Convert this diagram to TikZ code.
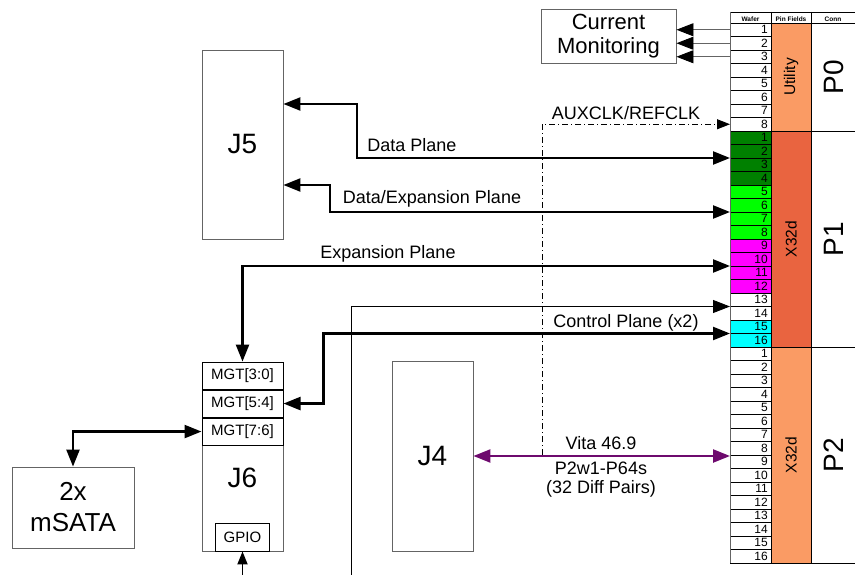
\documentclass[tikz,border=0pt]{standalone}
\usepackage{fontspec}
\setmainfont{Liberation Sans}
\usetikzlibrary{arrows.meta,positioning}
\definecolor{pinlight}{RGB}{250,155,100}
\definecolor{pindark}{RGB}{233,100,64}
\definecolor{wafdark}{RGB}{0,128,0}
\definecolor{waflime}{RGB}{0,255,0}
\definecolor{wafpink}{RGB}{255,0,255}
\definecolor{wafcyan}{RGB}{0,255,255}
\definecolor{vitapurple}{RGB}{110,10,110}
\definecolor{boxgray}{RGB}{100,100,100}
\newcommand{\jfont}{\fontsize{28}{31}\selectfont}
\newcommand{\satafont}{\fontsize{26}{31}\selectfont}
\newcommand{\cmfont}{\fontsize{22}{24}\selectfont}
\newcommand{\labfont}{\fontsize{18}{22}\selectfont}
\newcommand{\mgtfont}{\fontsize{15}{18}\selectfont}
\newcommand{\rotfont}{\fontsize{15.5}{18}\selectfont}
\newcommand{\cellfont}{\fontsize{12}{13}\selectfont}
\newcommand{\headfont}{\fontsize{6.5}{7}\selectfont\bfseries}
\tikzset{
  blk/.style={draw=boxgray, line width=0.9pt, inner sep=0pt},
  mgtbox/.style={draw=black, line width=1pt, inner sep=0pt,
    minimum width=81pt, minimum height=27pt, font=\mgtfont},
  bus/.style={line width=2.4pt},
  sig/.style={line width=0.9pt},
  cell/.style={draw=black, line width=0.7pt}
}
\begin{document}
\begin{tikzpicture}[x=1pt,y=-1pt,>={Triangle[length=17pt,width=13pt]}]
	\useasboundingbox (0,0) rectangle (855,575);
	\path
	coordinate (t-cm1) at (730,29.75)
	coordinate (t-cm2) at (730,43.25)
	coordinate (t-cm3) at (730,56.75)
	coordinate (t-clk) at (730,124.25)
	coordinate (t-dp) at (730,158)
	coordinate (t-dx) at (730,212)
	coordinate (t-ep) at (730,266)
	coordinate (t-x14) at (730,306.5)
	coordinate (t-cp) at (730,333.5)
	coordinate (t-vt) at (730,455)
	coordinate (clkbot) at (542,455)
	coordinate (offb) at (351,575)
	coordinate (gpioin) at (242.5,575)
	;
% wafer cells
	\foreach \r in {1,...,8}
	\filldraw[cell, fill=white] (730,{23+13.5*(\r-1)}) rectangle (771,{23+13.5*\r});
	\foreach \r/\c in {1/wafdark,2/wafdark,3/wafdark,4/wafdark,5/waflime,6/waflime,7/waflime,8/waflime,
	  9/wafpink,10/wafpink,11/wafpink,12/wafpink,13/white,14/white,15/wafcyan,16/wafcyan}
	\filldraw[cell, fill=\c] (730,{131+13.5*(\r-1)}) rectangle (771,{131+13.5*\r});
	\foreach \r in {1,...,16}
	\filldraw[cell, fill=white] (730,{347+13.5*(\r-1)}) rectangle (771,{347+13.5*\r});
	\foreach \r in {1,...,8}
	\node[font=\cellfont, anchor=east, inner sep=0pt] (w0-\r) at (768,{23+13.5*\r-6.75}) {\r};
	\foreach \r in {1,...,16}
	\node[font=\cellfont, anchor=east, inner sep=0pt] (w1-\r) at (768,{131+13.5*\r-6.75}) {\r};
	\foreach \r in {1,...,16}
	\node[font=\cellfont, anchor=east, inner sep=0pt] (w2-\r) at (768,{347+13.5*\r-6.75}) {\r};
% pin fields and conn
	\filldraw[cell, fill=pinlight] (771,23) rectangle (811,131);
	\filldraw[cell, fill=pindark] (771,131) rectangle (811,347);
	\filldraw[cell, fill=pinlight] (771,347) rectangle (811,563);
	\draw[cell]
	(730,12) -- (855,12)
	(730,23) -- (855,23)
	(811,131) -- (855,131)
	(811,347) -- (855,347)
	(811,563) -- (855,563)
	(730,12) -- (730,23)
	(771,12) -- (771,23)
	(811,12) -- (811,563);
	\draw[boxgray, line width=1pt] (730,12) -- (730,563);
	\node[font=\headfont] (h-waf) at (750.5,19.5) {Wafer};
	\node[font=\headfont] (h-pin) at (791,19.5) {Pin Fields};
	\node[font=\headfont] (h-con) at (833,19.5) {Conn};
	\node[font=\rotfont, rotate=90] (pf0) at (791,77) {Utility};
	\node[font=\rotfont, rotate=90] (pf1) at (791,239) {X32d};
	\node[font=\rotfont, rotate=90] (pf2) at (791,455) {X32d};
	\node[font=\jfont, rotate=90] (cn0) at (834,77) {P0};
	\node[font=\jfont, rotate=90] (cn1) at (834,239) {P1};
	\node[font=\jfont, rotate=90] (cn2) at (834,455) {P2};
% blocks
	\node[blk, minimum width=81pt, minimum height=189pt, font=\jfont] (j5) at (242.5,144.5) {J5};
	\node[blk, minimum width=81pt, minimum height=190pt, font=\jfont] (j4) at (432.5,456) {J4};
	\node[blk, minimum width=81pt, minimum height=189pt] (j6) at (242.5,456.5) {};
	\node[mgtbox, anchor=north] (mgt30) at (j6.north) {MGT[3:0]};
	\node[mgtbox, below=0pt of mgt30] (mgt54) {MGT[5:4]};
	\node[mgtbox, below=0pt of mgt54] (mgt76) {MGT[7:6]};
	\node[font=\jfont] (j6lbl) at (242.5,478) {J6};
	\node[draw=black, line width=0.9pt, minimum width=54pt, minimum height=28pt,
	  anchor=south, font=\mgtfont, inner sep=0pt] (gpio) at (j6.south) {GPIO};
	\node[blk, minimum width=122pt, minimum height=81pt, font=\satafont, align=center] (msata) at (73,507.5) {2x\\mSATA};
	\node[blk, minimum width=135pt, minimum height=54pt, font=\cmfont, align=center] (curmon) at (608.5,36) {Current\\Monitoring};
% connectors
	\draw[sig, boxgray, -{Triangle[length=17pt,width=13pt,black]}] (t-cm1) -- (t-cm1 -| curmon.east);
	\draw[sig, boxgray, -{Triangle[length=17pt,width=13pt,black]}] (t-cm2) -- (t-cm2 -| curmon.east);
	\draw[sig, boxgray, -{Triangle[length=17pt,width=13pt,black]}] (t-cm3) -- (t-cm3 -| curmon.east);
	\draw[sig, dash pattern=on 6pt off 3pt on 1pt off 3pt,
	  -{Triangle[length=13pt,width=10pt]}] (clkbot) |- (t-clk);
	\draw[bus, <->] (t-dp) -| (357,104) -- (j5.east |- 0,104);
	\draw[bus, <->] (t-dx) -| (330,185) -- (j5.east |- 0,185);
	\draw[bus, <->] (t-ep) -| (j6.north);
	\draw[sig, ->] (offb) |- (t-x14);
	\draw[bus, <->] (t-cp) -| ([xshift=40pt]mgt54.east) -- (mgt54.east);
	\draw[bus, <->] (mgt76.west) -| (msata.north);
	\draw[bus, vitapurple, <->] (j4.east) -- (j4.east -| t-vt);
	\draw[line width=1.8pt, -{Triangle[length=13pt,width=10pt]}] (gpioin) -- (gpio.south);
% labels
	\node[font=\labfont] (l-clk) at (626,113) {AUXCLK/REFCLK};
	\node[font=\labfont] (l-dp) at (412,145) {Data Plane};
	\node[font=\labfont] (l-dx) at (432,199) {Data/Expansion Plane};
	\node[font=\labfont] (l-ep) at (388,254) {Expansion Plane};
	\node[font=\labfont] (l-cp) at (626,323) {Control Plane (x2)};
	\node[font=\labfont] (l-vt1) at (601,443) {Vita 46.9};
	\node[font=\labfont] (l-vt2) at (601,468) {P2w1-P64s};
	\node[font=\labfont] (l-vt3) at (601,489) {(32 Diff Pairs)};
\end{tikzpicture}
\end{document}
